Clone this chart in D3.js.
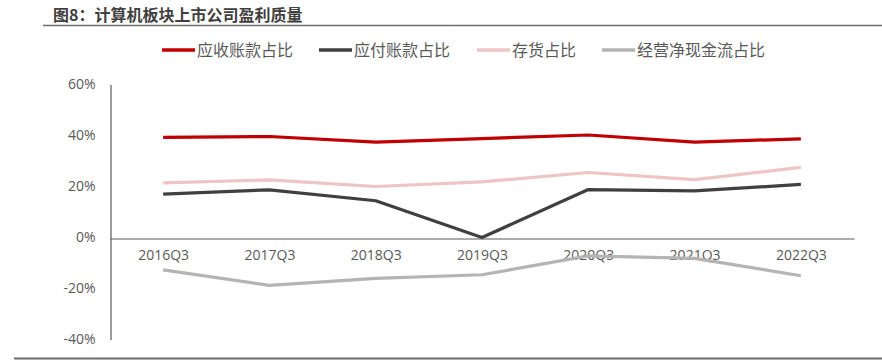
<!DOCTYPE html>
<html>
<head>
<meta charset="utf-8">
<script src="https://cdn.jsdelivr.net/npm/d3@7"></script>
<style>
  body { margin: 0; background: #fff; }
  svg { display: block; }
</style>
</head>
<body>
<script>
// data
const quarters = ['2016Q3', '2017Q3', '2018Q3', '2019Q3', '2020Q3', '2021Q3', '2022Q3'];
const receivable = [39.3, 39.6, 37.4, 38.8, 40.2, 37.4, 38.7];  // 应收账款占比
const payable = [17.0, 18.7, 14.4, 0.0, 18.8, 18.3, 20.8];      // 应付账款占比
const inventory = [21.4, 22.6, 20.0, 21.8, 25.5, 22.7, 27.5];   // 存货占比
const cashflow = [-12.7, -18.8, -16.0, -14.6, -7.2, -8.2, -15.0]; // 经营净现金流占比
const yTicks = [-40, -20, 0, 20, 40, 60];

const series = [
  { name: '应收账款占比', values: receivable, color: '#C00000' },
  { name: '应付账款占比', values: payable, color: '#404040' },
  { name: '存货占比', values: inventory, color: '#EEC4C4' },
  { name: '经营净现金流占比', values: cashflow, color: '#B4B4B4' }
];

const W = 882, H = 363;
const svg = d3.select('body').append('svg').attr('width', W).attr('height', H);
const font = "'Noto Sans CJK SC', 'Noto Sans', sans-serif";
const numFont = "'Open Sans', 'Liberation Sans', sans-serif";

// title + rules
svg.append('text')
  .attr('x', 53).attr('y', 20.5)
  .attr('font-family', font).attr('font-size', 16).attr('font-weight', 'bold')
  .attr('fill', '#404040')
  .text('图8：计算机板块上市公司盈利质量');
svg.append('line').attr('x1', 43).attr('x2', W).attr('y1', 25.5).attr('y2', 25.5)
  .attr('stroke', '#6d6d6d').attr('stroke-width', 1.5);
svg.append('line').attr('x1', 14).attr('x2', W).attr('y1', 358.5).attr('y2', 358.5)
  .attr('stroke', '#6d6d6d').attr('stroke-width', 2);

// scales
const x = d3.scalePoint().domain(quarters).range([110, 854]).padding(0.5);
const y = d3.scaleLinear().domain([-40, 60]).range([339.5, 84.5]);

// y axis
const yAxis = svg.append('g').attr('transform', 'translate(110.5,0)')
  .call(d3.axisLeft(y).tickValues(yTicks).tickSize(0).tickPadding(15)
    .tickFormat(d => d + '%'));
yAxis.select('.domain').attr('stroke', '#595959').attr('stroke-width', 1.2);
yAxis.selectAll('text')
  .attr('font-family', numFont)
  .attr('font-size', 14).attr('fill', '#595959');

// x axis on the zero line
const xAxis = svg.append('g').attr('transform', `translate(0,${Math.round(y(0)) + 0.5})`)
  .call(d3.axisBottom(x).tickSize(0).tickPadding(12));
xAxis.select('.domain').attr('stroke', '#595959').attr('stroke-width', 1.2);
xAxis.selectAll('text')
  .attr('font-family', numFont)
  .attr('font-size', 14).attr('fill', '#595959');

// lines
const line = d3.line().x((d, i) => x(quarters[i])).y(d => y(d));
svg.append('g').selectAll('path').data(series).join('path')
  .attr('d', d => line(d.values))
  .attr('fill', 'none')
  .attr('stroke', d => d.color)
  .attr('stroke-width', 3.2)
  .attr('stroke-linejoin', 'round');

// legend
const legendX = [162, 319, 477, 602];
const legend = svg.append('g').selectAll('g').data(series).join('g')
  .attr('transform', (d, i) => `translate(${legendX[i]},50)`);
legend.append('line').attr('x1', 0).attr('x2', 33).attr('y1', 0).attr('y2', 0)
  .attr('stroke', d => d.color).attr('stroke-width', 3.5);
legend.append('text').attr('x', 35).attr('y', 5.5)
  .attr('font-family', font).attr('font-size', 16).attr('fill', '#595959')
  .text(d => d.name);
</script>
</body>
</html>
